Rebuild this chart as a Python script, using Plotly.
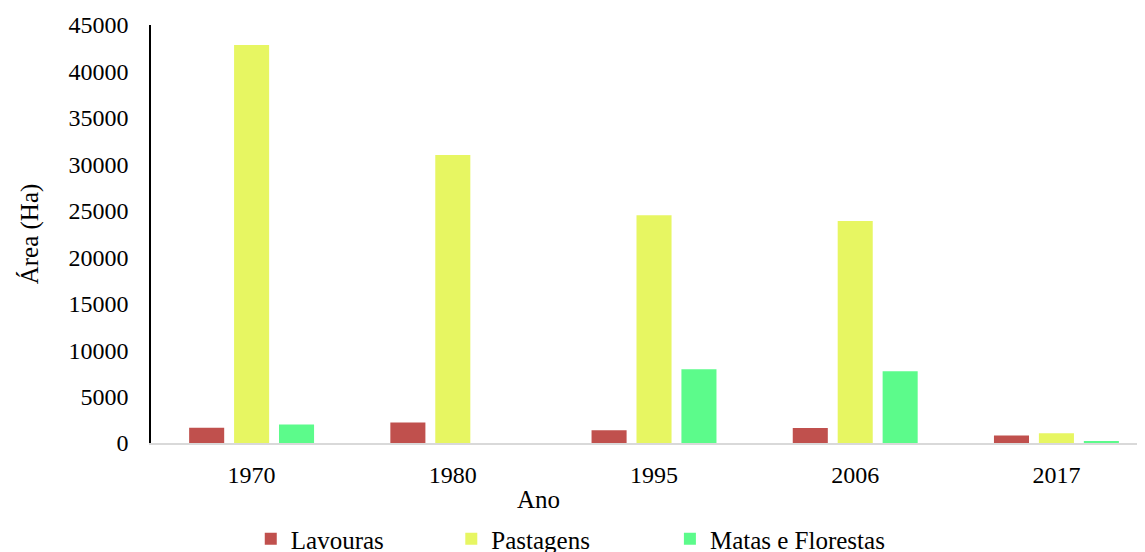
import plotly.graph_objects as go

anos = ["1970", "1980", "1995", "2006", "2017"]
lavouras = [1650, 2200, 1370, 1615, 800]
pastagens = [42850, 31000, 24520, 23900, 1045]
matas = [1980, 0, 7940, 7720, 150]

series_names = ["Lavouras", "Pastagens", "Matas e Florestas"]

y_ticks = [0, 5000, 10000, 15000, 20000, 25000, 30000, 35000, 40000, 45000]
y_tick_text = [str(v) for v in y_ticks]

FONT = "Liberation Serif, Times New Roman, serif"
FS = 24
FL = 25
NB = "\u00a0"

fig = go.Figure()
fig.add_bar(x=anos, y=lavouras, name=series_names[0] + NB * 10,
            marker=dict(color="#C0504D", line=dict(width=0)))
fig.add_bar(x=anos, y=pastagens, name=series_names[1] + NB * 12,
            marker=dict(color="#E7F662", line=dict(width=0)))
fig.add_bar(x=anos, y=matas, name=series_names[2],
            marker=dict(color="#5CFB8B", line=dict(width=0)))

fig.update_layout(
    width=1145, height=552,
    margin=dict(l=143, r=0, t=17, b=117, autoexpand=False),
    paper_bgcolor="white", plot_bgcolor="white",
    font=dict(family=FONT, size=FS, color="black"),
    barmode="group", bargap=0.33, bargroupgap=0.22,
    showlegend=True,
    legend=dict(orientation="h", x=114/1145, xanchor="left", yref="container",
                y=21/552, yanchor="middle",
                font=dict(family=FONT, size=FL), itemclick=False,
                tracegroupgap=0),
    annotations=[dict(text="Ano", x=387/1002, xref="paper", y=(444-500)/418, yref="paper",
                      showarrow=False, font=dict(family=FONT, size=FL), yanchor="middle")],
)
fig.update_xaxes(type="category", range=[-0.5, 4.48], showline=True, linecolor="#D9D9D9",
                 linewidth=2, ticks="", showgrid=False, ticklabelstandoff=9,
                 automargin=False, tickfont=dict(family=FONT, size=FS))
fig.update_yaxes(range=[0, 45000], tickvals=y_ticks, ticktext=y_tick_text, showline=True,
                 linecolor="black", linewidth=1.5, showgrid=False, zeroline=False, ticks="",
                 ticklabelstandoff=16, automargin=False, tickfont=dict(family=FONT, size=FS),
                 title=dict(text="Área (Ha)", font=dict(family=FONT, size=FL), standoff=23))

fig.write_html("out.html")
